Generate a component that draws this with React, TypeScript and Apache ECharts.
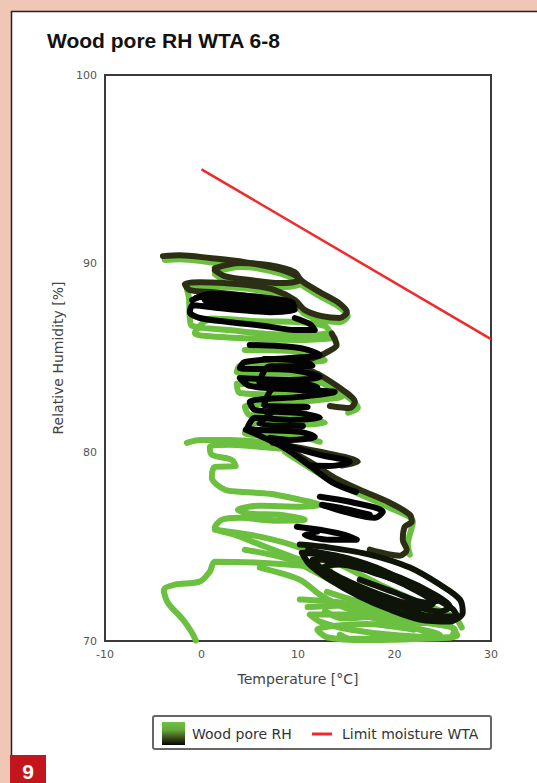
import React, { useEffect, useRef } from "react";
import * as echarts from "echarts";

// ---- axis / ticks ----
const xMin = -10;
const xMax = 30;
const xStep = 10;
const yMin = 70;
const yMax = 100;
const yStep = 10;

// ---- limit line (Temperature °C, RH %) ----
const limitMoisture: [number, number][] = [
  [0, 95],
  [30, 86],
];

// ---- wood pore RH trajectory (Temperature °C, RH %) ----
const greenUpper: [number, number][] = [
  [-3.8, 90.2], [-2.25, 90.24], [0.86, 90.08], [4.49, 89.87], [7.6, 89.55], [9.67, 89.18],
  [10.7, 88.76], [12.26, 88.28], [14.12, 87.75], [15.16, 87.22], [14.33, 86.9], [12.47, 87.01],
  [10.7, 87.33], [9.67, 87.86], [7.6, 88.39], [5.0, 88.65], [2.41, 88.76], [-0.18, 88.81],
  [-1.52, 88.7], [-1.3, 88.2], [-1.21, 87.12], [-0.98, 86.7], [2.93, 86.48], [7.08, 86.27],
  [11.22, 86.22], [13.3, 86.38], [12.78, 86.7], [10.19, 86.9], [6.0, 86.95], [1.0, 87.1],
  [-0.69, 86.33], [3.97, 86.06], [10.19, 85.95], [13.81, 86.06],
];
const greenOval: [number, number][] = [
  [1.4, 89.55], [4.0, 89.82], [7.1, 89.71], [9.7, 89.34], [10.2, 88.92], [8.1, 88.76],
  [5.0, 88.92], [2.4, 89.13], [1.4, 89.45],
];
const greenMid: [number, number][] = [
  [4.49, 85.42], [10.19, 85.32], [12.78, 84.89], [9.15, 84.79], [3.97, 84.58], [3.66, 84.26],
  [9.15, 84.16], [12.78, 83.73], [9.15, 83.57], [3.66, 83.63], [3.97, 83.15], [10.19, 83.04],
  [14.54, 82.94], [10.19, 82.67], [4.49, 82.41], [5.0, 81.98], [10.19, 81.83], [12.78, 81.56],
  [9.15, 81.46], [5.21, 81.56], [4.49, 81.03], [10.19, 80.82], [12.26, 80.56],
];
const greenMidDiag: [number, number][] = [
  [10.7, 84.1], [14.85, 83.04], [16.2, 82.35], [15.2, 82.1],
];
const greenDiag: [number, number][] = [
  [8.63, 80.03], [13.81, 78.39], [19.51, 77.06], [21.9, 76.32], [21.38, 75.11], [21.59, 74.58],
];
const greenLeft: [number, number][] = [
  [-1.52, 80.5], [-0.18, 80.66], [2.93, 80.66], [6.04, 80.56], [9.15, 80.34], [10.19, 80.13],
  [7.08, 80.24], [2.93, 80.4], [0.86, 80.29], [1.07, 79.87], [3.14, 79.6], [3.55, 79.28],
  [1.38, 79.23], [1.07, 78.65], [2.41, 78.02], [3.97, 77.91], [7.08, 77.8], [10.19, 77.49],
  [12.26, 77.22], [10.19, 77.12], [6.04, 77.17], [3.76, 76.96], [5.0, 76.75], [8.11, 76.69],
  [10.7, 76.43], [7.6, 76.38], [3.97, 76.53], [2.1, 76.43], [1.38, 76.01], [3.45, 75.63],
  [6.04, 75.11], [10.19, 74.31], [13.3, 73.78], [10.19, 74.0], [6.04, 74.15], [1.38, 74.2],
  [0.86, 73.68], [-0.18, 73.15], [-2.77, 72.99], [-3.91, 72.72], [-3.5, 72.04], [-1.94, 71.14],
  [-1.0, 70.45], [-0.59, 70.03],
];
const greenLowerA: [number, number][] = [
  [1.38, 75.9], [6.04, 75.53], [10.19, 74.95], [14.33, 74.05], [18.48, 72.99], [22.62, 72.04],
  [26.25, 71.24], [26.97, 70.71],
];
const greenLowerB: [number, number][] = [
  [4.49, 74.84], [9.15, 74.31], [13.3, 73.25], [17.44, 72.31], [21.59, 71.56], [24.69, 70.87],
];
const greenLowerC: [number, number][] = [
  [6.04, 73.89], [10.19, 73.25], [12.26, 72.46], [14.85, 71.77], [19.51, 71.14], [23.14, 70.5],
];
const greenBottom: [number, number][] = [
  [10.19, 72.2], [14.33, 72.04], [18.48, 71.56], [22.62, 71.03], [26.25, 70.61], [25.73, 70.19],
  [20.55, 70.29], [15.37, 70.61], [12.26, 71.03], [11.22, 71.4], [15.37, 71.4], [20.55, 70.87],
  [24.69, 70.34], [15.37, 70.12], [14.33, 70.34],
];
const greenBottom2: [number, number][] = [
  [11.0, 71.8], [16.0, 71.9], [21.0, 71.3], [25.5, 70.9], [26.5, 70.3], [22.0, 70.1],
  [17.0, 70.05], [13.0, 70.2], [12.0, 70.6], [17.0, 70.9], [22.0, 70.6],
];
const greenBottom3: [number, number][] = [
  [13.0, 72.6], [17.0, 72.0], [21.0, 71.7], [25.0, 71.2], [23.0, 70.95], [18.5, 71.3],
  [14.5, 71.2], [12.8, 71.6],
];

const oliveUpper: [number, number][] = [
  [-4.0, 90.4], [-2.25, 90.45], [0.86, 90.3], [4.49, 90.08], [7.6, 89.76], [9.67, 89.39],
  [10.7, 88.97], [12.26, 88.49], [14.12, 87.96], [15.06, 87.43], [14.33, 87.12], [12.47, 87.22],
  [10.7, 87.54], [9.67, 88.07], [7.6, 88.6], [5.0, 88.86], [2.41, 88.97], [-0.18, 89.02],
  [-1.73, 88.92], [-1.21, 88.6], [1.38, 88.49], [5.0, 88.28], [8.63, 87.96], [10.19, 87.75],
];
const oliveOval: [number, number][] = [
  [1.38, 89.76], [3.97, 90.03], [7.08, 89.92], [9.67, 89.55], [10.19, 89.13], [8.11, 88.97],
  [5.0, 89.13], [2.41, 89.34], [1.38, 89.66],
];
const oliveMid: [number, number][] = [
  [13.5, 86.3], [14.0, 85.7], [12.8, 85.25], [10.19, 84.63], [12.26, 84.1], [14.33, 83.41],
  [15.89, 82.67], [15.37, 82.35], [13.3, 82.46],
];
const oliveDiag: [number, number][] = [
  [8.42, 80.29], [11.22, 79.5], [13.81, 78.65], [16.4, 78.02], [19.51, 77.33], [21.59, 76.69],
  [21.79, 76.32], [21.07, 76.06], [20.86, 75.37], [21.27, 74.84], [20.55, 74.52], [17.44, 74.84],
];
const oliveDiag2: [number, number][] = [
  [7.39, 80.5], [12.26, 80.03], [16.2, 79.5], [14.5, 79.3],
];

const blackUpper: [number, number][] = [
  [-0.98, 88.07], [0.86, 88.39], [3.97, 88.33], [7.08, 88.17], [9.49, 87.91], [9.15, 87.65],
  [6.04, 87.75], [2.93, 87.91], [0.34, 88.07], [1.38, 88.17], [5.0, 88.07], [8.11, 87.86],
  [9.67, 87.54], [7.08, 87.43], [3.97, 87.54], [0.86, 87.7], [-0.9, 87.8], [-1.21, 87.43],
  [-0.18, 87.12], [2.93, 86.9], [6.56, 86.7], [9.67, 86.48], [11.74, 86.48], [11.22, 86.8],
  [9.67, 87.12],
];
const blackUpper2: [number, number][] = [
  [-0.5, 88.2], [2.0, 88.3], [5.5, 88.2], [8.5, 88.0], [9.6, 87.75], [7.0, 87.62], [3.5, 87.7],
  [0.5, 87.85], [2.0, 87.98], [6.0, 87.95], [8.8, 87.8],
];
const blackMid: [number, number][] = [
  [5.0, 85.69], [10.19, 85.53], [12.26, 85.16], [9.15, 85.0], [4.49, 84.79], [3.97, 84.47],
  [9.15, 84.37], [12.26, 84.0], [9.15, 83.84], [3.97, 83.94], [5.0, 83.52], [10.19, 83.31],
  [13.81, 83.2], [10.19, 82.94], [5.0, 82.67], [5.52, 82.25], [10.19, 82.09], [12.26, 81.83],
  [9.15, 81.72], [5.52, 81.83], [4.8, 81.3], [10.19, 81.09], [11.74, 80.82], [9.15, 80.66],
  [7.08, 80.77], [8.63, 80.4], [12.26, 79.87], [15.37, 79.5], [13.3, 79.28], [11.2, 79.3],
];
const blackMid2: [number, number][] = [
  [6.5, 84.95], [10.5, 84.85], [11.5, 84.6], [7.0, 84.55], [6.0, 83.7], [11.0, 83.6],
  [12.0, 83.45], [7.5, 83.4], [6.5, 82.5], [11.0, 82.4], [8.0, 82.3], [6.0, 81.5], [10.5, 81.4],
];
const blackDiag: [number, number][] = [
  [4.6, 81.2], [8.42, 80.29], [11.22, 79.29], [13.6, 78.4], [16.0, 77.9],
];
const blackLowerA: [number, number][] = [
  [12.26, 77.65], [15.37, 77.38], [18.79, 76.85], [17.96, 76.53], [14.85, 76.85], [12.47, 77.22],
  [14.33, 77.06], [17.44, 76.69],
];
const blackLowerB: [number, number][] = [
  [9.88, 76.06], [12.26, 75.9], [14.85, 75.63], [16.09, 75.37], [13.3, 75.37], [10.7, 75.63],
  [12.0, 75.8],
];
const blackEllipse: [number, number][] = [
  [10.19, 75.11], [13.3, 74.95], [17.44, 74.58], [21.59, 73.89], [24.69, 72.99], [26.77, 72.2],
  [27.07, 71.51], [25.73, 71.03], [22.62, 71.14], [19.51, 71.67], [16.4, 72.36], [13.3, 73.25],
  [11.22, 74.05], [10.4, 74.68], [12.26, 74.58], [16.4, 74.05], [20.55, 73.36], [24.17, 72.46],
  [25.73, 71.83], [24.69, 71.56], [21.59, 71.93], [18.48, 72.46], [14.85, 73.25], [12.78, 73.94],
  [14.33, 74.05], [18.48, 73.52], [22.62, 72.72], [24.69, 72.2], [23.14, 72.04], [20.03, 72.57],
  [16.4, 73.25],
];
const blackEllipse2: [number, number][] = [
  [11.0, 74.8], [15.0, 74.4], [19.0, 73.7], [23.0, 72.6], [26.0, 71.7], [26.5, 71.3],
  [24.0, 71.3], [20.0, 71.9], [16.0, 72.7], [13.0, 73.6], [11.5, 74.3], [12.5, 74.3],
  [17.0, 73.8], [21.0, 73.0], [24.0, 72.0], [22.0, 71.7], [18.0, 72.2], [14.5, 73.0],
];

const GREEN = "#6cc040";
const OLIVE = "#2c2f14";
const DARK = "#0e1407";
const BLACK = "#030303";

const tracks: { data: [number, number][]; color: string }[] = [
  { data: greenUpper, color: GREEN },
  { data: greenOval, color: GREEN },
  { data: greenMid, color: GREEN },
  { data: greenMidDiag, color: GREEN },
  { data: greenDiag, color: GREEN },
  { data: greenLeft, color: GREEN },
  { data: greenLowerA, color: GREEN },
  { data: greenLowerB, color: GREEN },
  { data: greenLowerC, color: GREEN },
  { data: greenBottom, color: GREEN },
  { data: greenBottom2, color: GREEN },
  { data: greenBottom3, color: GREEN },
  { data: oliveUpper, color: OLIVE },
  { data: oliveOval, color: OLIVE },
  { data: oliveMid, color: OLIVE },
  { data: oliveDiag, color: OLIVE },
  { data: oliveDiag2, color: OLIVE },
  { data: blackUpper, color: BLACK },
  { data: blackUpper2, color: BLACK },
  { data: blackMid, color: BLACK },
  { data: blackMid2, color: BLACK },
  { data: blackDiag, color: BLACK },
  { data: blackLowerA, color: BLACK },
  { data: blackLowerB, color: BLACK },
  { data: blackEllipse, color: DARK },
  { data: blackEllipse2, color: DARK },
];

const LABEL_FONT = "DejaVu Sans";

export default function App() {
  const ref = useRef<HTMLDivElement>(null);

  useEffect(() => {
    if (!ref.current) return;
    const chart = echarts.init(ref.current, null, { renderer: "svg" });

    const series: any[] = tracks.map((t) => ({
      name: "Wood pore RH",
      type: "line",
      data: t.data,
      showSymbol: false,
      smooth: 0.3,
      silent: true,
      lineStyle: { color: t.color, width: 6, cap: "round", join: "round" },
      z: 2,
    }));
    series.push({
      name: "Limit moisture WTA",
      type: "line",
      data: limitMoisture,
      showSymbol: false,
      silent: true,
      lineStyle: { color: "#ee2a2c", width: 2.5 },
      z: 3,
    });

    chart.setOption({
      animation: false,
      backgroundColor: "#efc7b4",
      title: {
        text: "Wood pore RH WTA 6-8",
        left: 42,
        top: 25,
        textStyle: {
          fontFamily: "Liberation Sans",
          fontWeight: "bold",
          fontSize: 21,
          color: "#111",
        },
      },
      grid: {
        left: 105,
        right: 46,
        top: 75,
        bottom: 142,
        show: true,
        backgroundColor: "#ffffff",
        borderColor: "#3a3a3a",
        borderWidth: 2,
        z: 1,
      },
      xAxis: {
        type: "value",
        min: xMin,
        max: xMax,
        interval: xStep,
        name: "Temperature [°C]",
        nameLocation: "middle",
        nameGap: 31,
        nameTextStyle: { fontFamily: LABEL_FONT, fontSize: 14, color: "#444" },
        axisLine: { show: true, lineStyle: { color: "#3a3a3a", width: 2 } },
        axisTick: { show: false },
        axisLabel: { fontFamily: LABEL_FONT, fontSize: 11, color: "#555", margin: 8 },
        splitLine: { show: true, lineStyle: { color: "#7a7a7a", width: 1.5 } },
      },
      yAxis: {
        type: "value",
        min: yMin,
        max: yMax,
        interval: yStep,
        name: "Relative Humidity [%]",
        nameLocation: "middle",
        nameGap: 40,
        nameTextStyle: { fontFamily: LABEL_FONT, fontSize: 14, color: "#444" },
        axisLine: { show: true, lineStyle: { color: "#3a3a3a", width: 2 } },
        axisTick: { show: false },
        axisLabel: { fontFamily: LABEL_FONT, fontSize: 11, color: "#555", margin: 8 },
        splitLine: { show: true, lineStyle: { color: "#7a7a7a", width: 1.5 } },
      },
      graphic: [
        {
          type: "rect",
          z: -10,
          silent: true,
          shape: { x: 11.5, y: 11.5, width: 600, height: 800 },
          style: { fill: "#ffffff", stroke: "#222", lineWidth: 1.5 },
        },
        {
          type: "rect",
          z: 10,
          silent: true,
          shape: { x: 153, y: 716, width: 338, height: 33, r: 2 },
          style: { fill: "#ffffff", stroke: "#666", lineWidth: 2 },
        },
        {
          type: "rect",
          z: 11,
          silent: true,
          shape: { x: 162, y: 722, width: 23, height: 23 },
          style: {
            fill: new echarts.graphic.LinearGradient(0, 0, 0, 1, [
              { offset: 0, color: "#70c244" },
              { offset: 0.35, color: "#65a83a" },
              { offset: 0.7, color: "#3a4a18" },
              { offset: 1, color: "#050505" },
            ]),
          },
        },
        {
          type: "text",
          z: 11,
          silent: true,
          style: {
            text: "Wood pore RH",
            x: 192,
            y: 734,
            verticalAlign: "middle",
            fontFamily: LABEL_FONT,
            fontSize: 14,
            fill: "#333",
          },
        },
        {
          type: "line",
          z: 11,
          silent: true,
          shape: { x1: 312, y1: 734, x2: 332, y2: 734 },
          style: { stroke: "#ee2a2c", lineWidth: 3 },
        },
        {
          type: "text",
          z: 11,
          silent: true,
          style: {
            text: "Limit moisture WTA",
            x: 342,
            y: 734,
            verticalAlign: "middle",
            fontFamily: LABEL_FONT,
            fontSize: 14,
            fill: "#333",
          },
        },
        {
          type: "rect",
          z: 20,
          silent: true,
          shape: { x: 10, y: 755, width: 36, height: 30 },
          style: { fill: "#c3161c" },
        },
        {
          type: "text",
          z: 21,
          silent: true,
          style: {
            text: "9",
            x: 28,
            y: 771,
            align: "center",
            verticalAlign: "middle",
            fontFamily: "Liberation Sans",
            fontWeight: "bold",
            fontSize: 21,
            fill: "#ffffff",
          },
        },
      ],
      series,
    });

    return () => chart.dispose();
  }, []);

  return (
    <div
      ref={ref}
      style={{ position: "absolute", left: 0, top: 0, width: 537, height: 783 }}
    />
  );
}
